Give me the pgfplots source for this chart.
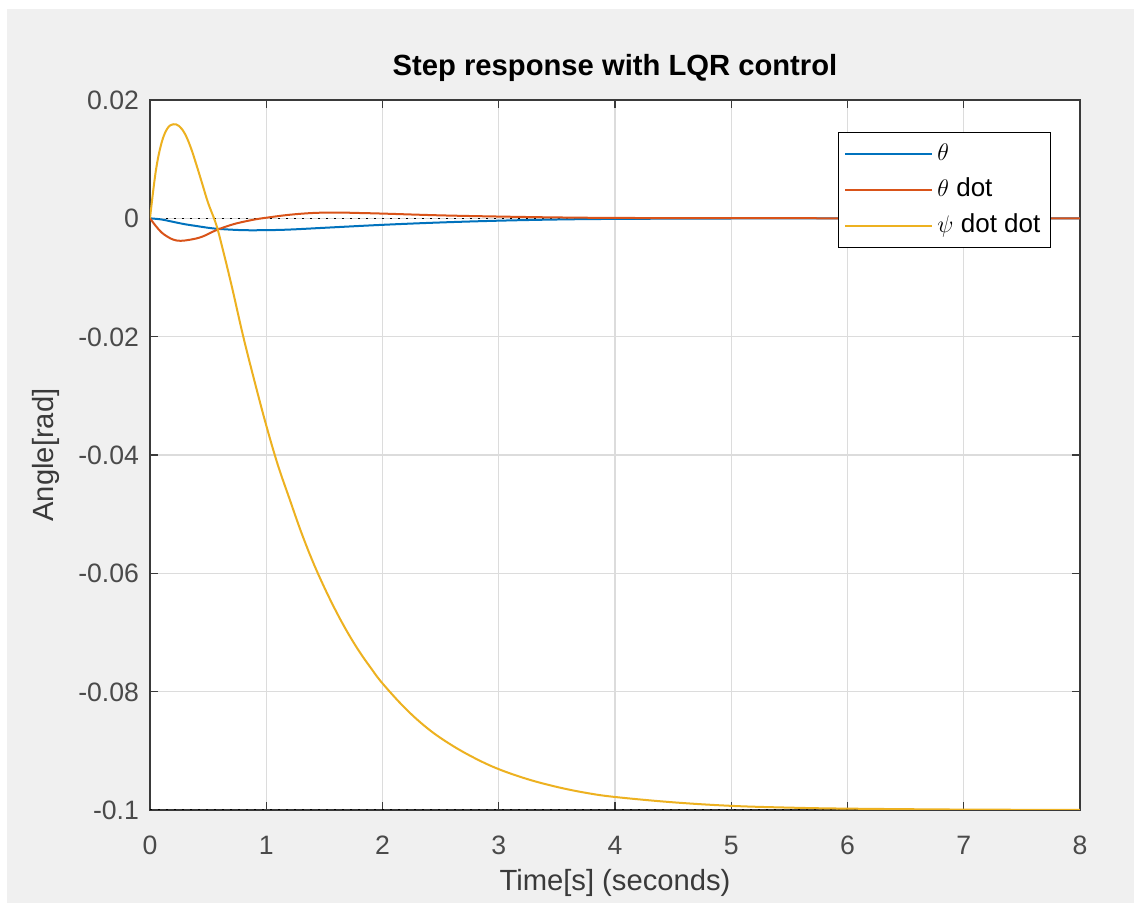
\documentclass[border=0pt]{standalone}
\usepackage{pgfplots}
\pgfplotsset{compat=1.18}
\usepackage{fontspec}
\setmainfont{Liberation Sans}
\definecolor{mblue}{HTML}{0072BD}
\definecolor{morange}{HTML}{D95319}
\definecolor{myellow}{HTML}{EDB120}
\definecolor{figbg}{HTML}{F0F0F0}
\definecolor{axcol}{HTML}{3A3A3A}
\definecolor{tickcol}{HTML}{4A4A4A}
\definecolor{gridcol}{HTML}{DCDCDC}
\begin{document}
\begin{tikzpicture}
\fill[white] (-75pt,-46.5pt) rectangle (492pt,405pt);
\fill[figbg] (-71.5pt,-46.5pt) rectangle (492pt,400.5pt);
\begin{axis}[
  at={(0pt,0pt)}, anchor=south west, scale only axis,
  width=465pt, height=355pt,
  xmin=0, xmax=8, ymin=-0.1, ymax=0.02,
  axis background/.style={fill=white},
  xtick={0,1,2,3,4,5,6,7,8},
  xticklabels={0,1,2,3,4,5,6,7,8},
  ytick={-0.1,-0.08,-0.06,-0.04,-0.02,0,0.02},
  yticklabels={-0.1,-0.08,-0.06,-0.04,-0.02,0,0.02},
  scaled y ticks=false, scaled x ticks=false,
  tick align=inside, major tick length=4pt,
  major tick style={axcol, line width=0.6pt},
  axis line style={axcol, line width=0.6pt},
  grid=major, major grid style={gridcol, line width=0.6pt},
  ticklabel style={font=\fontsize{13.3}{16}\selectfont, text=tickcol},
  xticklabel style={anchor=base, yshift=-22.5pt},
  yticklabel style={anchor=base east, yshift=-4.7pt, xshift=-2pt},
  every axis title shift=0pt,
  title={Step response with LQR control},
  title style={at={(axis description cs:0.5,1.0340)}, anchor=base, font=\bfseries\fontsize{14.6}{17}\selectfont},
  xlabel={Time[s] (seconds)},
  xlabel style={at={(axis description cs:0.5,-0.1127)}, anchor=base, font=\fontsize{14.6}{17}\selectfont, text=axcol},
  ylabel={Angle[rad]},
  ylabel style={at={(axis description cs:-0.1043,0.5)}, anchor=base, font=\fontsize{14.6}{17}\selectfont, text=axcol},
  legend image code/.code={\draw[#1] (0pt,0pt) -- (43.5pt,0pt);},
  legend cell align=left,
  legend style={at={(axis description cs:0.9688,0.955)}, anchor=north east,
    draw=black, fill=white, line width=0.6pt, inner xsep=3pt, inner ysep=1.75pt,
    font=\fontsize{13}{15}\selectfont,
    nodes={text height=9pt, text depth=3pt, inner ysep=3pt, inner xsep=2pt}},
]
\addplot[black, line width=0.8pt, dash pattern=on 0.8pt off 3.2pt, forget plot] coordinates {(0,0) (8,0)};
\addplot[black, line width=0.8pt, dash pattern=on 0.8pt off 3.2pt, forget plot] coordinates {(0,-0.1) (8,-0.1)};
\addplot[mblue, line width=1pt, smooth, tension=0.6] coordinates {
(0,0) (0.1,-0.0002) (0.2,-0.0006) (0.3,-0.0010) (0.4,-0.0013) (0.5,-0.0016)
(0.6,-0.0018) (0.8,-0.0020) (1.0,-0.0020) (1.2,-0.0019) (1.5,-0.0016)
(2.0,-0.0011) (2.5,-0.0007) (3.0,-0.0004) (3.5,-0.0002) (4.0,-0.0001)
(5.0,-0.00003) (6.0,0) (8.0,0)};
\addlegendentry{$\theta$}
\addplot[morange, line width=1pt, smooth, tension=0.6] coordinates {
(0,0) (0.05,-0.0013) (0.1,-0.0024) (0.15,-0.0031) (0.2,-0.0036) (0.26,-0.0038)
(0.35,-0.0036) (0.45,-0.0031) (0.57,-0.0020) (0.7,-0.0011) (0.8,-0.0006)
(0.9,-0.0002) (1.0,0.0001) (1.2,0.0006) (1.4,0.0009) (1.6,0.00098) (1.8,0.0009)
(2.0,0.0008) (2.5,0.0005) (3.0,0.0003) (3.5,0.00015) (4.0,0.00007) (5.0,0.00002) (8.0,0)};
\addlegendentry{$\theta$ dot}
\addplot[myellow, line width=1pt, smooth, tension=0.6] coordinates {
(0,0) (0.05,0.0080) (0.1,0.0128) (0.15,0.0152) (0.2,0.0159) (0.25,0.0156)
(0.3,0.0143) (0.35,0.0120) (0.4,0.0090) (0.45,0.0058) (0.5,0.0026) (0.56,-0.0005)
(0.6,-0.0032) (0.7,-0.0112) (0.8,-0.0198) (0.9,-0.0276) (1.0,-0.0350)
(1.1,-0.0417) (1.2,-0.0474) (1.3,-0.0530) (1.4,-0.0580) (1.5,-0.0624)
(1.6,-0.0664) (1.7,-0.0700) (1.8,-0.0732) (1.9,-0.0760) (2.0,-0.0786)
(2.2,-0.0829) (2.4,-0.0864) (2.6,-0.0891) (2.8,-0.0913) (3.0,-0.0931)
(3.25,-0.0948) (3.5,-0.0961) (3.75,-0.0971) (4.0,-0.0978) (4.5,-0.0987)
(5.0,-0.0993) (5.5,-0.0996) (6.0,-0.09977) (7.0,-0.09993) (8.0,-0.09998)};
\addlegendentry{$\psi$ dot dot}
\end{axis}
\pgfresetboundingbox
\useasboundingbox (-75pt,-46.5pt) rectangle (492pt,405pt);
\end{tikzpicture}
\end{document}
